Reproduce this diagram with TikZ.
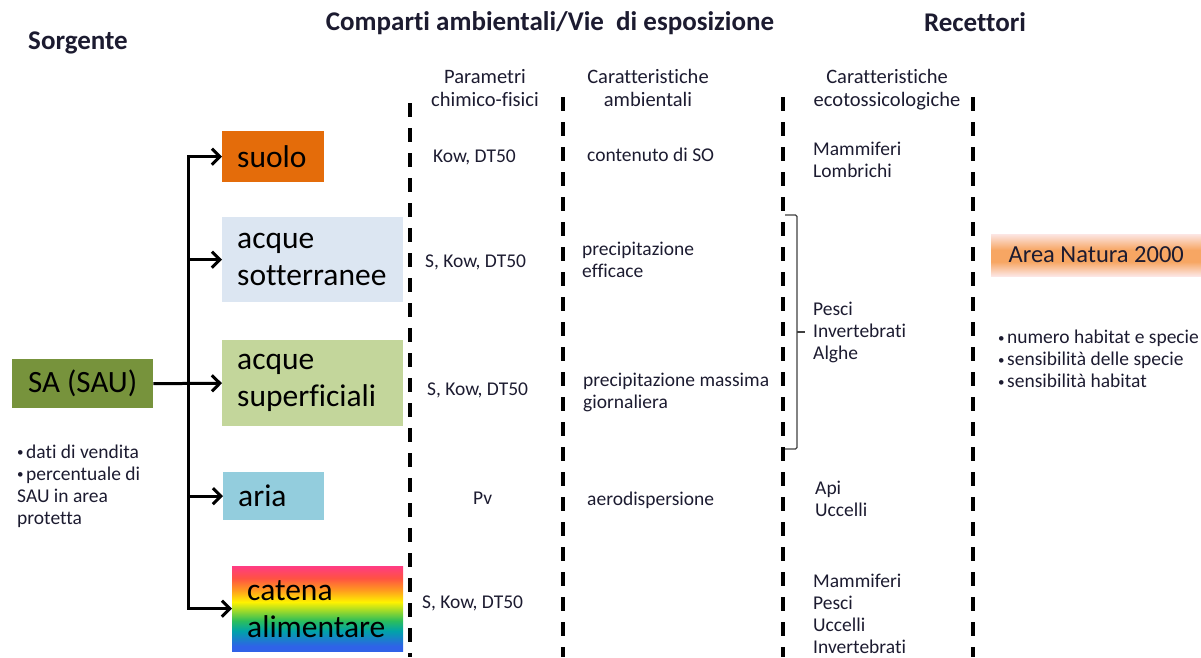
\documentclass[tikz,border=0pt]{standalone}
\usepackage{fontspec}
\setmainfont{Carlito}[Ligatures=NoCommon]
\usetikzlibrary{arrows.meta}
\definecolor{ink}{HTML}{1C1B30}
\definecolor{suolocol}{HTML}{E46C0A}
\definecolor{sottcol}{HTML}{DCE6F2}
\definecolor{superfcol}{HTML}{C3D69B}
\definecolor{ariacol}{HTML}{93CDDD}
\definecolor{sacol}{HTML}{77933C}
\definecolor{natpale}{HTML}{FCE6E4}
\definecolor{natorange}{HTML}{F7A663}
\definecolor{rbblue}{HTML}{2F62E8}
\definecolor{rbteal}{HTML}{00A3A8}
\definecolor{rbgreen}{HTML}{2DBE5A}
\definecolor{rbyellow}{HTML}{FFF200}
\definecolor{rborange}{HTML}{FF9A1F}
\definecolor{rbred}{HTML}{FF5243}
\definecolor{rbpink}{HTML}{FF3C82}
\pgfdeclareverticalshading{rainbow}{100bp}{color(0bp)=(rbblue); color(28bp)=(rbblue); color(37bp)=(rbteal); color(43bp)=(rbgreen); color(54bp)=(rbyellow); color(61bp)=(rborange); color(68bp)=(rbred); color(75bp)=(rbpink); color(100bp)=(rbpink)}
\pgfdeclareverticalshading{natura}{100bp}{color(0bp)=(natpale); color(25bp)=(natpale); color(42bp)=(natorange); color(56bp)=(natorange); color(75bp)=(natpale); color(100bp)=(natpale)}
\newcommand{\dotitem}{\raisebox{0.15ex}{\fontsize{13}{13}\selectfont •}\hspace{2.5pt}}
\begin{document}
\begin{tikzpicture}[x=1pt, y=-1pt,
    hdr/.style={font=\bfseries\fontsize{27}{32}\selectfont, text=ink, inner sep=0pt},
    colhead/.style={font=\fontsize{20.5}{23}\selectfont, text=ink, align=center, inner sep=0pt},
    txt/.style={font=\fontsize{19.5}{22}\selectfont, text=ink, align=left, anchor=west, inner sep=0pt},
    compbox/.style={font=\fontsize{31.5}{37}\selectfont, text=black, align=left, anchor=north west, inner xsep=15pt, inner ysep=0pt},
    divider/.style={line width=3.5pt, dash pattern=on 14pt off 11pt},
    feed/.style={line width=3pt, -{Straight Barb[length=8pt,width=16pt]}},
    brk/.style={line width=1.2pt, draw=black!75, rounded corners=1.5pt}]
  \useasboundingbox (0,0) rectangle (1201,657);

  \node[hdr] (sorg) at (78,43) {Sorgente};
  \node[hdr] (comp) at (550,23) {Comparti ambientali/Vie\ \ di esposizione};
  \node[hdr] (rec) at (975,22) {Recettori};

  \node[colhead] (hpar) at (485,88) {Parametri\\chimico-fisici};
  \node[colhead] (hamb) at (648,88) {Caratteristiche\\ambientali};
  \node[colhead] (heco) at (887,90) {Caratteristiche\\ecotossicologiche};

  \draw[divider] (410,103) -- (410,657);
  \draw[divider] (563,97) -- (563,657);
  \draw[divider] (783,97) -- (783,657);
  \draw[divider] (973,97) -- (973,657);

  \node[compbox, anchor=north west, align=center, inner xsep=0pt, fill=sacol, minimum width=141pt, minimum height=49pt, font=\fontsize{31}{37}\selectfont] (sa) at (12,359) {SA (SAU)};
  \node[compbox, fill=suolocol, text width=72pt, minimum height=51pt] (suolo) at (222,131) {suolo};
  \node[compbox, fill=sottcol, text width=151pt, minimum height=85pt] (sott) at (222,217) {acque\\sotterranee};
  \node[compbox, fill=superfcol, text width=151pt, minimum height=86pt] (superf) at (222,340) {acque\\superficiali};
  \node[compbox, fill=ariacol, text width=71pt, minimum height=48pt] (aria) at (223,472) {aria};
  \node[compbox, shading=rainbow, text width=141pt, minimum height=85pt] (catena) at (232,566) {catena\\alimentare};

  \node[txt] (vendita) at (17,486) {\dotitem dati di vendita\\\dotitem percentuale di\\SAU in area\\protetta};

  \node[txt] (par1) at (433,157) {Kow, DT50};
  \node[txt] (par2) at (425,262) {S, Kow, DT50};
  \node[txt] (par3) at (427,390) {S, Kow, DT50};
  \node[txt] (par4) at (473,498) {Pv};
  \node[txt] (par5) at (422,603) {S, Kow, DT50};

  \node[txt] (amb1) at (587,155) {contenuto di SO};
  \node[txt] (amb2) at (582,260) {precipitazione\\efficace};
  \node[txt] (amb3) at (583,392) {precipitazione massima\\giornaliera};
  \node[txt] (amb4) at (587,500) {aerodispersione};

  \node[txt] (eco1) at (813,160) {Mammiferi\\Lombrichi};
  \node[txt] (eco2) at (813,332) {Pesci\\Invertebrati\\Alghe};
  \node[txt] (eco3) at (815,499) {Api\\Uccelli};
  \node[txt] (eco4) at (813,614) {Mammiferi\\Pesci\\Uccelli\\Invertebrati};

  \draw[brk] (785,215) -- (797,215) -- (797,449) -- (785,449);
  \draw[brk] (797,332) -- (805,332);

  \node[anchor=west, shading=natura, minimum width=210pt, minimum height=42pt, inner sep=0pt, text=ink, font=\fontsize{24.5}{29}\selectfont] (natura) at (991,255) {Area Natura 2000};
  \node[txt] (habitat) at (998,359) {\dotitem numero habitat e specie\\\dotitem sensibilità delle specie\\\dotitem sensibilità habitat};

  \coordinate (fork) at (188,383);
  \begin{scope}[feed]
    \draw (sa.east) -- (superf.west);
    \draw (fork) |- (suolo.west);
    \draw (fork) |- (sott.west);
    \draw (fork) |- (aria.west);
    \draw (fork) |- (catena.west);
  \end{scope}
\end{tikzpicture}
\end{document}
